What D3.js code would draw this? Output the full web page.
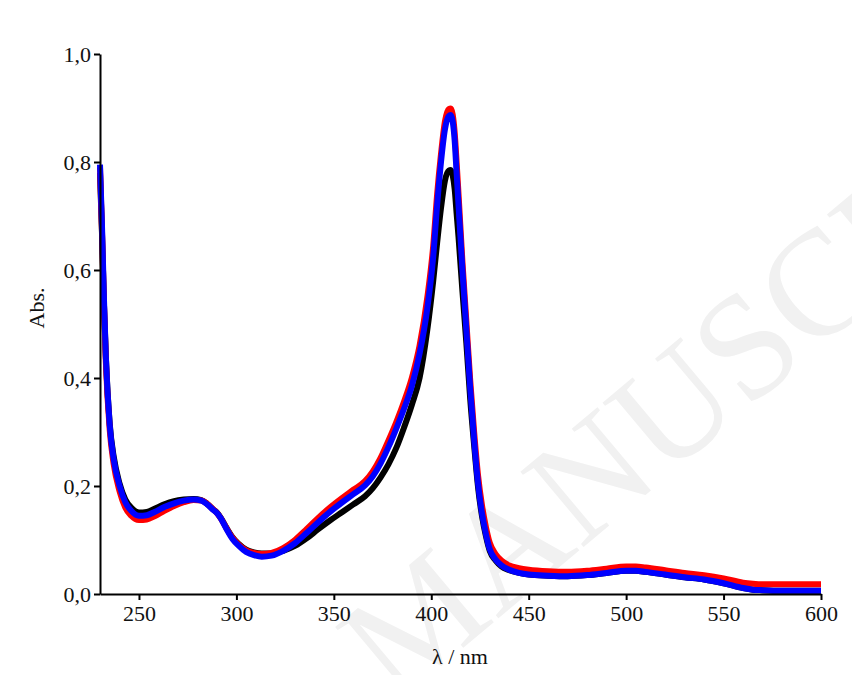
<!DOCTYPE html>
<html>
<head>
<meta charset="utf-8">
<script src="https://cdn.jsdelivr.net/npm/d3@7"></script>
<style>
  html, body { margin: 0; padding: 0; background: #ffffff; }
  svg { display: block; }
  text { font-family: "Liberation Serif", "Times New Roman", serif; }
</style>
</head>
<body>
<svg id="chart" width="852" height="675"></svg>
<script>
// Wavelengths (nm)
const wavelengths = [230,231,232,233,235,237,240,243,246,250,254,258,263,268,273,278,282,285,288,290,292,295,298,301,305,309,313,318,324,330,336,342,348,354,360,366,370,374,378,382,386,390,394,398,401,403,405,407,409,410,411,412,413,414,416,418,420,422,424,426,428,430,433,436,440,445,450,460,470,480,490,500,505,510,520,530,540,550,560,565,570,580,590,600];

// Absorbance, black series
const absBlack = [0.780,0.670,0.540,0.440,0.315,0.255,0.205,0.175,0.160,0.151,
  0.152,0.158,0.166,0.172,0.175,0.176,0.174,0.167,0.157,0.151,
  0.141,0.122,0.105,0.093,0.082,0.077,0.075,0.075,0.080,0.089,
  0.103,0.120,0.136,0.151,0.166,0.181,0.196,0.216,0.240,0.270,
  0.308,0.350,0.400,0.490,0.580,0.650,0.715,0.765,0.784,0.785,
  0.775,0.750,0.705,0.660,0.560,0.465,0.360,0.275,0.198,0.145,
  0.108,0.080,0.062,0.051,0.044,0.039,0.036,0.034,0.033,0.035,
  0.039,0.043,0.043,0.041,0.036,0.031,0.027,0.020,0.011,0.008,
  0.007,0.006,0.006,0.006];

// Absorbance, red series
const absRed = [0.790,0.675,0.540,0.430,0.303,0.241,0.191,0.160,0.145,0.137,
  0.138,0.144,0.154,0.163,0.170,0.174,0.173,0.167,0.157,0.150,
  0.140,0.121,0.104,0.092,0.081,0.076,0.074,0.076,0.085,0.100,
  0.120,0.141,0.160,0.177,0.193,0.209,0.227,0.252,0.284,0.318,
  0.356,0.400,0.460,0.550,0.645,0.740,0.815,0.875,0.898,0.899,
  0.888,0.855,0.800,0.740,0.615,0.505,0.395,0.300,0.220,0.165,
  0.125,0.095,0.074,0.062,0.053,0.048,0.045,0.042,0.041,0.043,
  0.047,0.051,0.051,0.049,0.044,0.039,0.035,0.029,0.021,0.019,
  0.018,0.018,0.018,0.018];

// Absorbance, blue series
const absBlue = [0.795,0.685,0.550,0.440,0.312,0.250,0.201,0.170,0.154,0.145,
  0.146,0.152,0.161,0.168,0.173,0.175,0.173,0.166,0.156,0.150,
  0.140,0.120,0.102,0.090,0.078,0.072,0.069,0.071,0.080,0.094,
  0.113,0.133,0.152,0.169,0.185,0.201,0.218,0.242,0.272,0.306,
  0.343,0.385,0.445,0.530,0.625,0.720,0.800,0.860,0.885,0.887,
  0.875,0.840,0.780,0.720,0.600,0.490,0.380,0.285,0.205,0.150,
  0.112,0.083,0.064,0.053,0.045,0.039,0.036,0.034,0.033,0.035,
  0.039,0.043,0.043,0.041,0.036,0.031,0.027,0.020,0.011,0.008,
  0.007,0.006,0.006,0.006];

const seriesColors = ["#000000", "#ff0000", "#0000ff"];
const xTicks = [250,300,350,400,450,500,550,600];
const yTicks = [0.0,0.2,0.4,0.6,0.8,1.0];
const xLabel = "λ / nm";
const yLabel = "Abs.";
const watermark = "MANUSCRIPT";

const svg = d3.select("#chart");
const mLeft = 100, mRight = 821, mTop = 54, mBottom = 594;

const x = d3.scaleLinear().domain([230, 600]).range([mLeft, mRight]);
const y = d3.scaleLinear().domain([0, 1]).range([mBottom, mTop]);

// watermark (faint, as in the reference)
svg.append("text")
  .attr("transform", "translate(395,705) rotate(-40)")
  .attr("font-size", 150)
  .attr("fill", "#f1f1f1")
  .text(watermark);

const series = [absBlack, absRed, absBlue];
const line = d3.line()
  .x((d, i) => x(wavelengths[i]))
  .y(d => y(d))
  .curve(d3.curveMonotoneX);

series.forEach((s, k) => {
  svg.append("path")
    .datum(s)
    .attr("d", line)
    .attr("fill", "none")
    .attr("stroke", seriesColors[k])
    .attr("stroke-width", 6)
    .attr("stroke-linejoin", "round")
    .attr("stroke-linecap", "butt");
});

const fmt = d => d3.format(".1f")(d).replace(".", ",");

const xAxis = svg.append("g")
  .attr("transform", `translate(0,${mBottom})`)
  .call(d3.axisBottom(x).tickValues(xTicks).tickSize(6).tickSizeOuter(0).tickFormat(d3.format("d")));
const yAxis = svg.append("g")
  .attr("transform", `translate(${mLeft},0)`)
  .call(d3.axisLeft(y).tickValues(yTicks).tickSize(6).tickSizeOuter(0).tickFormat(fmt));

[xAxis, yAxis].forEach(g => {
  g.select(".domain").attr("stroke", "#000").attr("stroke-width", 2);
  g.selectAll(".tick line").attr("stroke", "#000").attr("stroke-width", 2);
  g.selectAll(".tick text")
    .attr("font-family", "'Liberation Serif', 'Times New Roman', serif")
    .attr("font-size", 22)
    .attr("fill", "#111");
});
xAxis.selectAll(".tick text").attr("dy", "0.71em").attr("y", 11);
yAxis.selectAll(".tick text").attr("x", -9).attr("dy", "0.34em");

svg.append("text")
  .attr("x", 460).attr("y", 664)
  .attr("text-anchor", "middle")
  .attr("font-size", 22)
  .attr("fill", "#111")
  .text(xLabel);

svg.append("text")
  .attr("transform", "translate(44,308) rotate(-90)")
  .attr("text-anchor", "middle")
  .attr("font-size", 22)
  .attr("fill", "#111")
  .text(yLabel);
</script>
</body>
</html>
